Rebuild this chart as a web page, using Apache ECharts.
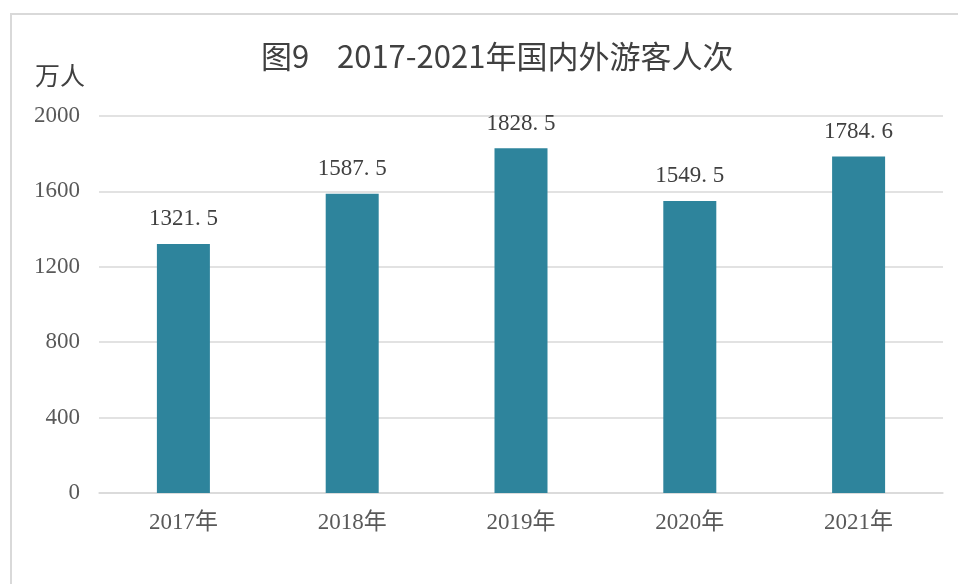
<!DOCTYPE html>
<html>
<head>
<meta charset="utf-8">
<script src="https://cdn.jsdelivr.net/npm/echarts@6/dist/echarts.min.js"></script>
<style>
html, body { margin: 0; padding: 0; background: #fff; }
#chart { width: 958px; height: 584px; }
</style>
</head>
<body>
<div id="chart"></div>
<script>
var years = ['2017年', '2018年', '2019年', '2020年', '2021年'];
var visitors = [1321.5, 1587.5, 1828.5, 1549.5, 1784.6];
var yTicks = { min: 0, max: 2000, step: 400 };
var titleText = '图9    2017-2021年国内外游客人次';
var unitText = '万人';

var myChart = echarts.init(document.getElementById('chart'));
var serif = '"Liberation Serif", "Noto Sans CJK SC", serif';
var option = {
    backgroundColor: '#ffffff',
    animation: false,
    title: {
        text: titleText,
        left: 256,
        top: 36,
        textStyle: {
            fontSize: 31,
            fontWeight: 'normal',
            color: '#404040',
            fontFamily: '"Noto Sans CJK SC", sans-serif'
        }
    },
    graphic: [
        {
            type: 'rect',
            shape: { x: 11, y: 14, width: 1000, height: 700 },
            style: { fill: 'none', stroke: '#d9d9d9', lineWidth: 2 },
            silent: true
        },
        {
            type: 'text',
            left: 35,
            top: 63,
            style: {
                text: unitText,
                fontSize: 25,
                fill: '#404040',
                fontFamily: '"Noto Sans CJK SC", sans-serif'
            }
        }
    ],
    grid: {
        left: 99,
        right: 15,
        top: 116,
        bottom: 91
    },
    xAxis: {
        type: 'category',
        data: years,
        axisTick: { show: false },
        axisLine: { lineStyle: { color: '#d9d9d9', width: 1.5 } },
        axisLabel: {
            margin: 18,
            fontSize: 23,
            color: '#595959',
            fontFamily: serif
        }
    },
    yAxis: {
        type: 'value',
        min: yTicks.min,
        max: yTicks.max,
        interval: yTicks.step,
        axisLine: { show: false },
        axisTick: { show: false },
        splitLine: { lineStyle: { color: '#d9d9d9', width: 1.5 } },
        axisLabel: {
            margin: 19,
            fontSize: 23,
            color: '#595959',
            fontFamily: serif,
            formatter: function (v) { return String(v); }
        }
    },
    series: [{
        type: 'bar',
        data: visitors,
        barWidth: 53,
        itemStyle: { color: '#2e849c' },
        label: {
            show: true,
            position: 'top',
            distance: 13,
            fontSize: 23,
            color: '#404040',
            fontFamily: serif,
            formatter: function (p) {
                return String(p.value).replace('.', '. ');
            }
        }
    }]
};
myChart.setOption(option);
</script>
</body>
</html>
